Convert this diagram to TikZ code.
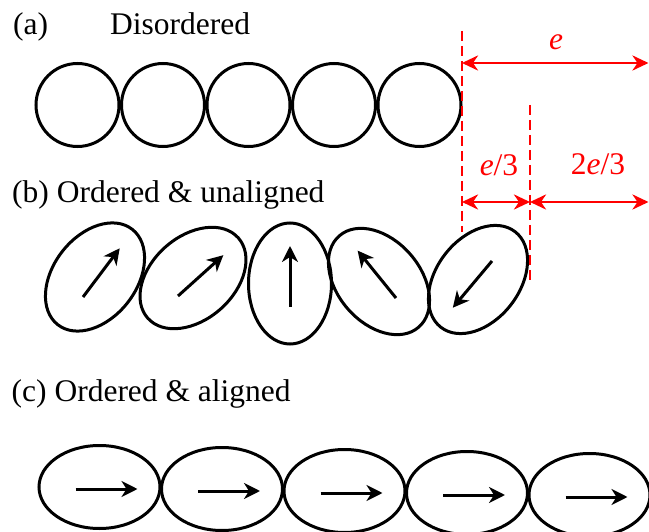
\documentclass[tikz,border=0pt]{standalone}
\usepackage{fontspec}
\setmainfont{Liberation Serif}
\usetikzlibrary{arrows.meta,shapes.geometric,calc}

\tikzset{
  lbl/.style={font=\fontsize{31.5}{38}\selectfont, inner sep=0pt, anchor=base west},
  dimlbl/.style={font=\fontsize{31.5}{38}\selectfont, inner sep=0pt, anchor=base, text=red},
  grain/.style={draw=black, line width=3pt, circle, minimum size=83pt, inner sep=0pt, outer sep=0pt},
  oval/.style={draw=black, line width=3pt, ellipse, minimum width=121pt, minimum height=83pt, inner sep=0pt, outer sep=0pt},
  spin/.style={line width=3pt, -{Stealth[length=16pt,width=16pt,inset=5pt]}},
  guide/.style={draw=red, line width=2.8pt, dash pattern=on 10pt off 5pt},
  dimarrow/.style={draw=red, line width=2.8pt, {Stealth[length=16pt,width=15pt,inset=5pt]}-{Stealth[length=16pt,width=15pt,inset=5pt]}}
}

\begin{document}
\begin{tikzpicture}[x=1pt, y=-1pt]
\useasboundingbox (0,0) rectangle (649,532);

% ---- (a) disordered: plain circles
\node[lbl] (labA) at (13,34.5) {(a)};
\node[lbl] (titleA) at (110,34.5) {Disordered};
\foreach \i in {1,...,5}
  \node[grain] (a\i) at ({77.5+85.5*(\i-1)},105) {};

% ---- (b) ordered & unaligned: tilted ellipses with spins
\node[lbl] (labB) at (12,202.5) {(b) Ordered \& unaligned};
\node[oval, rotate=52]   (b1) at (95,277)    {};
\node[oval, rotate=41.5] (b2) at (193,278)   {};
\node[oval, rotate=90]   (b3) at (290,283.5) {};
\node[oval, rotate=131]  (b4) at (379,281.5) {};
\node[oval, rotate=52]   (b5) at (478,279.5) {};

\coordinate (s1) at (83,297);
\coordinate (s2) at (178,296);
\coordinate (s3) at (290,307);
\coordinate (s4) at (396,298);
\coordinate (s5) at (492,261);
\draw[spin] (s1) -- ++(-53:61);
\draw[spin] (s2) -- ++(-42:61);
\draw[spin] (s3) -- ++(-90:61);
\draw[spin] (s4) -- ++(-129:61);
\draw[spin] (s5) -- ++(130:61);

% ---- (c) ordered & aligned: horizontal ellipses with spins
\node[lbl] (labC) at (11.5,401.5) {(c) Ordered \& aligned};
\foreach \i in {1,...,5} {
  \node[oval] (c\i) at ({99.5+122.5*(\i-1)},{487+2*(\i-1)}) {};
  \draw[spin] ($(c\i.center)+(-24,2)$) -- ++(62,0);
}

% ---- dimension guides
\coordinate (g1top) at (462,31);
\coordinate (g1bot) at (462,232);
\coordinate (g2top) at (530,105);
\coordinate (g2bot) at (530,283);
\draw[guide] (g1top) -- (g1bot);
\draw[guide] (g2top) -- (g2bot);

\coordinate (eL) at (462,63);
\coordinate (eR) at (648.5,63);
\coordinate (tL) at (462,202);
\coordinate (tM) at (530,202);
\coordinate (tR) at (648.5,202);
\draw[dimarrow] (eL) -- (eR);
\draw[dimarrow] (tL) -- (tM);
\draw[dimarrow] (tM) -- (tR);

\node[dimlbl] (eLabel) at (556,50) {\itshape e};
\node[dimlbl] (thirdLabel) at (499,176) {{\itshape e}/3};
\node[dimlbl] (twoThirdLabel) at (598,174.5) {2{\itshape e}/3};
\end{tikzpicture}
\end{document}
